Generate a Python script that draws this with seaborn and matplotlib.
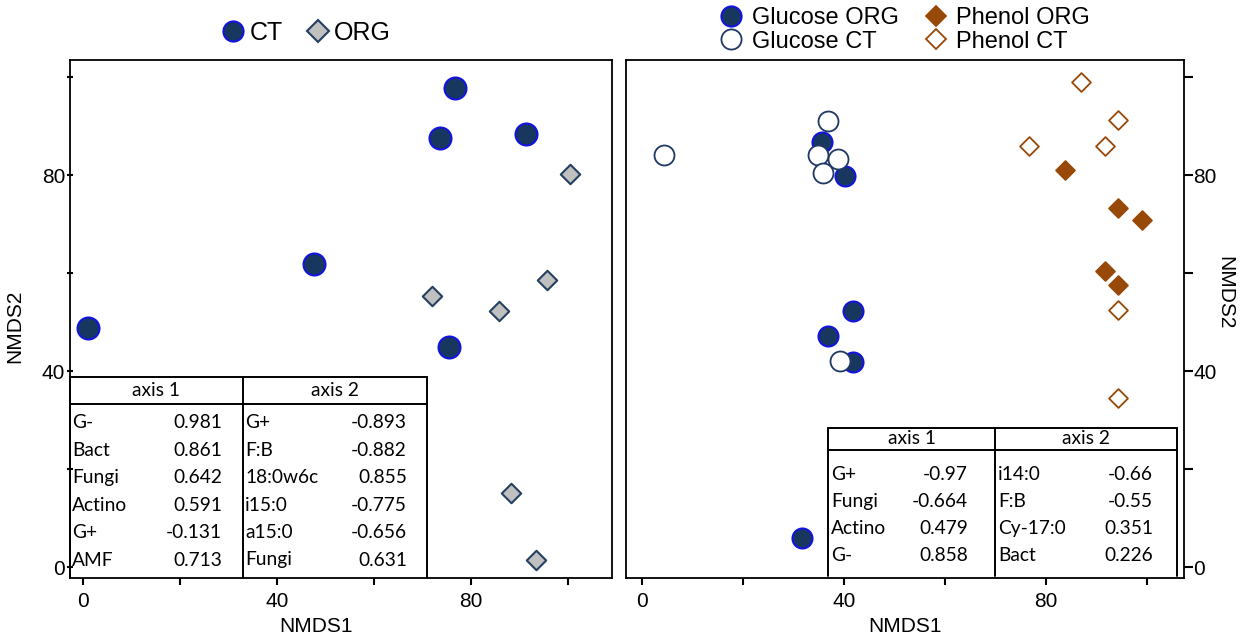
import matplotlib
matplotlib.use('Agg')
import matplotlib.pyplot as plt
import seaborn as sns
import pandas as pd
from matplotlib.lines import Line2D

# ---------------- data ----------------
left_ct_x = [1.0, 47.7, 76.8, 73.7, 91.3, 75.5]
left_ct_y = [48.8, 61.8, 97.8, 87.5, 88.3, 45.0]
left_org_x = [100.4, 72.0, 95.7, 85.8, 88.2, 93.4]
left_org_y = [80.2, 55.3, 58.6, 52.3, 15.1, 1.4]

glu_org_x = [35.6, 40.2, 41.8, 36.8, 41.8, 31.7]
glu_org_y = [86.7, 79.8, 52.2, 47.1, 41.8, 5.9]
glu_ct_x = [4.4, 36.8, 34.9, 38.8, 35.8, 39.2]
glu_ct_y = [84.1, 91.0, 84.1, 83.3, 80.4, 42.0]
phe_org_x = [83.8, 94.3, 99.0, 91.7, 94.3]
phe_org_y = [81.0, 73.3, 70.8, 60.4, 57.6]
phe_ct_x = [86.9, 94.3, 76.6, 91.7, 94.3, 94.3]
phe_ct_y = [99.0, 91.2, 85.9, 85.9, 52.4, 34.5]

tick_values = [0, 20, 40, 60, 80, 100]
tick_labels = ['0', '', '40', '', '80', '']

left_a1_names = ['G-', 'Bact', 'Fungi', 'Actino', 'G+', 'AMF']
left_a1_vals = ['0.981', '0.861', '0.642', '0.591', '-0.131', '0.713']
left_a2_names = ['G+', 'F:B', '18:0w6c', 'i15:0', 'a15:0', 'Fungi']
left_a2_vals = ['-0.893', '-0.882', '0.855', '-0.775', '-0.656', '0.631']
right_a1_names = ['G+', 'Fungi', 'Actino', 'G-']
right_a1_vals = ['-0.97', '-0.664', '0.479', '0.858']
right_a2_names = ['i14:0', 'F:B', 'Cy-17:0', 'Bact']
right_a2_vals = ['-0.66', '-0.55', '0.351', '0.226']

# ---------------- style ----------------
sns.set_style('white')
plt.rcParams['font.family'] = ['Liberation Sans', 'DejaVu Sans']
plt.rcParams['text.color'] = 'black'
plt.rcParams['axes.labelcolor'] = 'black'
plt.rcParams['xtick.color'] = 'black'
plt.rcParams['ytick.color'] = 'black'
TABLE_FONT = ['Lato', 'DejaVu Sans']

W, H = 1243, 639
fig = plt.figure(figsize=(W / 100, H / 100), dpi=100)


def fx(px):
    return px / W


def fy(py):
    return 1 - py / H


axL = fig.add_axes([fx(70), fy(578), (612 - 70) / W, (578 - 60) / H])
axR = fig.add_axes([fx(626), fy(578), (1184 - 626) / W, (578 - 60) / H])

NAVY = '#17375E'
BLUE_EDGE = '#1414E0'
GRAY = '#C0C0C0'
GRAY_EDGE = '#243F60'
OPEN_EDGE = '#1F3864'
BROWN = '#984807'

dfL = pd.DataFrame({
    'NMDS1': left_ct_x + left_org_x,
    'NMDS2': left_ct_y + left_org_y,
    'group': ['CT'] * len(left_ct_x) + ['ORG'] * len(left_org_x),
})
stylesL = {
    'CT': dict(marker='o', s=250, color=NAVY, edgecolor=BLUE_EDGE, linewidth=1.5),
    'ORG': dict(marker='D', s=98, color=GRAY, edgecolor=GRAY_EDGE, linewidth=1.5),
}
for g, st in stylesL.items():
    sns.scatterplot(data=dfL[dfL.group == g], x='NMDS1', y='NMDS2', ax=axL,
                    legend=False, zorder=3, **st)

dfR = pd.DataFrame({
    'NMDS1': glu_org_x + glu_ct_x + phe_org_x + phe_ct_x,
    'NMDS2': glu_org_y + glu_ct_y + phe_org_y + phe_ct_y,
    'group': (['Glucose ORG'] * len(glu_org_x) + ['Glucose CT'] * len(glu_ct_x)
              + ['Phenol ORG'] * len(phe_org_x) + ['Phenol CT'] * len(phe_ct_x)),
})
stylesR = {
    'Glucose ORG': dict(marker='o', s=207, color=NAVY, edgecolor=BLUE_EDGE, linewidth=1.5),
    'Glucose CT': dict(marker='o', s=207, color='white', edgecolor=OPEN_EDGE, linewidth=1.3),
    'Phenol ORG': dict(marker='D', s=92, color=BROWN, edgecolor=BROWN, linewidth=1.3),
    'Phenol CT': dict(marker='D', s=92, color='white', edgecolor=BROWN, linewidth=1.3),
}
for g, st in stylesR.items():
    sns.scatterplot(data=dfR[dfR.group == g], x='NMDS1', y='NMDS2', ax=axR,
                    legend=False, zorder=3, **st)

# ---------------- axes ----------------
axL.set_xlim(-2.68, 109.07)
axL.set_ylim(-2.24, 103.5)
axR.set_xlim(-3.17, 107.3)
axR.set_ylim(-2.24, 103.5)

for ax in (axL, axR):
    for sp in ax.spines.values():
        sp.set_visible(True)
        sp.set_color('black')
        sp.set_linewidth(1.3)
    ax.set_xticks(tick_values)
    ax.set_xticklabels(tick_labels)
    ax.set_yticks(tick_values)
    ax.set_yticklabels(tick_labels)
    ax.tick_params(axis='x', direction='out', length=5, width=1.5, labelsize=15,
                   pad=5, colors='black', bottom=True)
    ax.set_xlabel('NMDS1', fontsize=15)

axL.tick_params(axis='y', direction='inout', length=5, width=1.5, labelsize=15,
                pad=1, left=True, colors='black')
axL.set_ylabel('NMDS2', fontsize=15)
axL.xaxis.set_label_coords(0.454, -0.075)
axL.yaxis.set_label_coords(-0.085, 0.486)

axR.yaxis.tick_right()
axR.yaxis.set_label_position('right')
axR.tick_params(axis='y', direction='out', length=6.5, width=1.5, labelsize=15,
                pad=0, right=True, left=False, colors='black')
axR.set_ylabel('NMDS2', fontsize=15, rotation=-90, va='center')
axR.xaxis.set_label_coords(0.5, -0.075)
axR.yaxis.set_label_coords(1.073, 0.55)

# ---------------- tables ----------------
LW = 1.4


def hline(x0, x1, y):
    fig.add_artist(Line2D([fx(x0), fx(x1)], [fy(y), fy(y)], transform=fig.transFigure,
                          color='black', lw=LW, zorder=5))


def vline(x, y0, y1):
    fig.add_artist(Line2D([fx(x), fx(x)], [fy(y0), fy(y1)], transform=fig.transFigure,
                          color='black', lw=LW, zorder=5))


def draw_table(left, mid, right, top, head, bottom, row0, step,
               n1, v1, n2, v2, lab1_x, val1_x, lab2_x, val2_x, fs=13.8):
    hline(left, right, top)
    hline(left, right, head)
    for xv in (left, mid, right):
        vline(xv, top, bottom)
    hy = (top + head) / 2
    fig.text(fx((left + mid) / 2), fy(hy), 'axis 1', ha='center', va='center',
             fontsize=fs, family=TABLE_FONT)
    fig.text(fx((mid + right) / 2), fy(hy), 'axis 2', ha='center', va='center',
             fontsize=fs, family=TABLE_FONT)
    for i in range(len(n1)):
        yy = fy(row0 + i * step)
        fig.text(fx(lab1_x), yy, n1[i], ha='left', va='center', fontsize=fs, family=TABLE_FONT)
        fig.text(fx(val1_x), yy, v1[i], ha='right', va='center', fontsize=fs, family=TABLE_FONT)
        fig.text(fx(lab2_x), yy, n2[i], ha='left', va='center', fontsize=fs, family=TABLE_FONT)
        fig.text(fx(val2_x), yy, v2[i], ha='right', va='center', fontsize=fs, family=TABLE_FONT)


draw_table(70, 243, 427, 377, 404, 578, 423, 27.4,
           left_a1_names, left_a1_vals, left_a2_names, left_a2_vals,
           72, 222, 245, 407)
draw_table(828, 995, 1177, 428, 450, 576, 475, 26.7,
           right_a1_names, right_a1_vals, right_a2_names, right_a2_vals,
           831, 968, 998, 1153)

# ---------------- legends ----------------
hL = [
    Line2D([], [], ls='none', marker='o', ms=14.5, mfc=NAVY, mec=BLUE_EDGE, mew=1.5, label='CT'),
    Line2D([], [], ls='none', marker='D', ms=11, mfc=GRAY, mec=GRAY_EDGE, mew=1.5, label='ORG'),
]
fig.legend(handles=hL, loc='center', bbox_to_anchor=(fx(307), fy(33)), ncol=2,
           frameon=False, fontsize=18, handlelength=0.8, handletextpad=0.25,
           columnspacing=1.0, borderpad=0, borderaxespad=0)

hR = [
    Line2D([], [], ls='none', marker='o', ms=14.5, mfc=NAVY, mec=BLUE_EDGE, mew=1.5, label='Glucose ORG'),
    Line2D([], [], ls='none', marker='o', ms=14.5, mfc='white', mec=OPEN_EDGE, mew=1.3, label='Glucose CT'),
    Line2D([], [], ls='none', marker='D', ms=10.5, mfc=BROWN, mec=BROWN, mew=1.3, label='Phenol ORG'),
    Line2D([], [], ls='none', marker='D', ms=10.5, mfc='white', mec=BROWN, mew=1.3, label='Phenol CT'),
]
fig.legend(handles=hR, loc='center', bbox_to_anchor=(fx(906), fy(30)), ncol=2,
           frameon=False, fontsize=17, handlelength=0.8, handletextpad=0.45,
           columnspacing=1.2, labelspacing=0.05, borderpad=0, borderaxespad=0)

fig.savefig('out.png', dpi=100)
